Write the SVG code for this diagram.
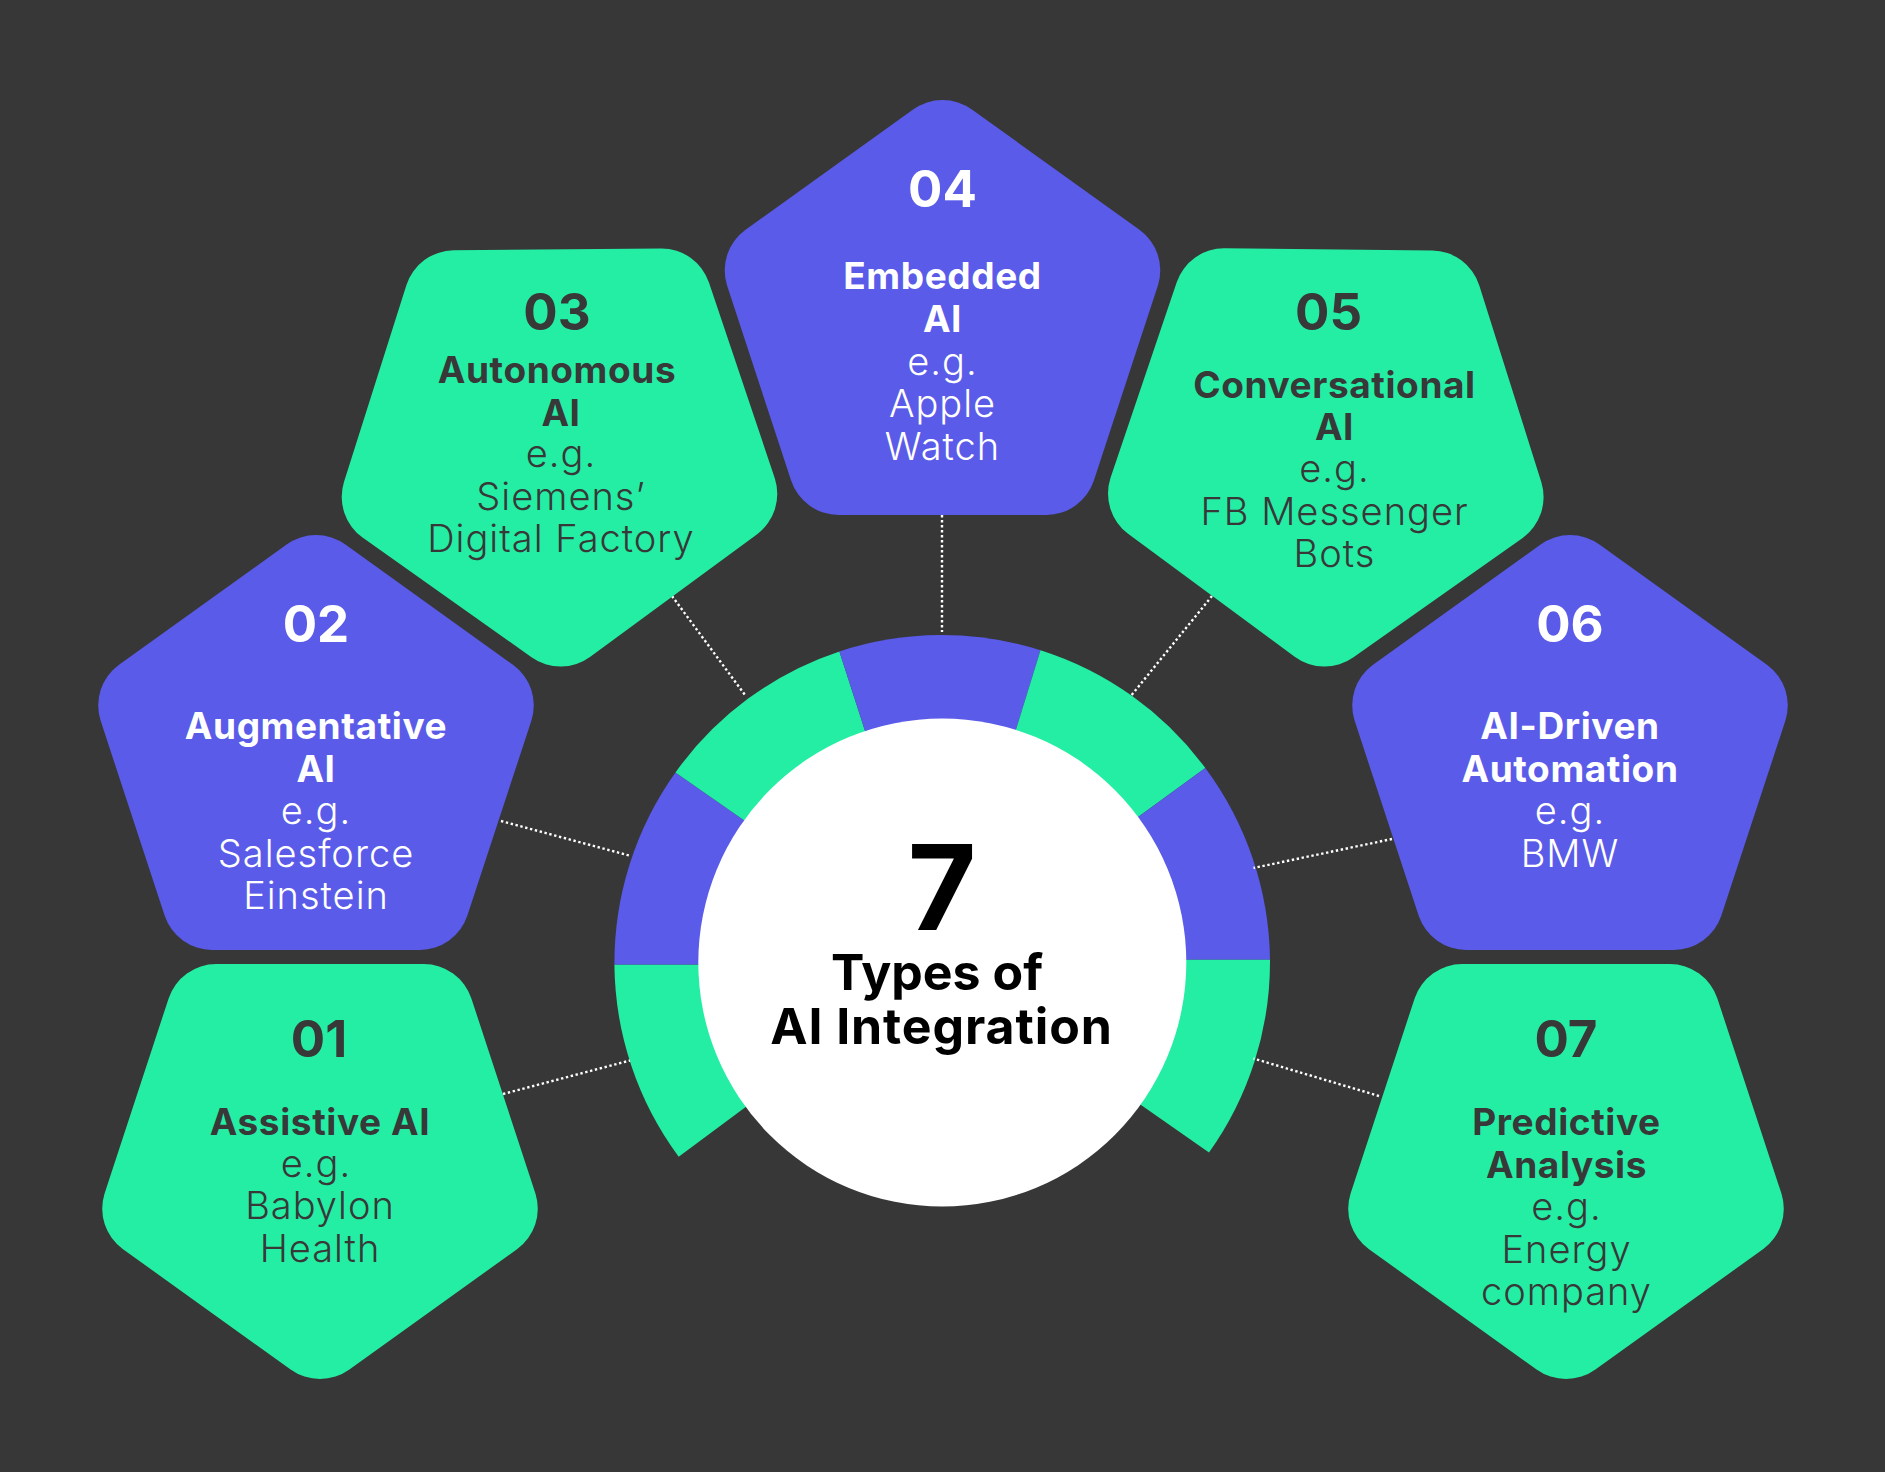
<svg xmlns="http://www.w3.org/2000/svg" width="1885" height="1472" viewBox="0 0 1885 1472">
<style>
text{font-family:"Inter","Noto Sans",sans-serif;text-anchor:middle}
.num{font-size:51px;font-weight:700}
.h{font-size:37px;font-weight:700;letter-spacing:.6px}
.b{font-size:38px;font-weight:350;letter-spacing:1px}
.on-g text{fill:#383838}
.on-b text{fill:#fff}
.g{fill:#24EEA4}
.p{fill:#5A5BE9}
.t{fill:#000;font-weight:700}
#connectors line{stroke:#fff;stroke-width:2.4;stroke-dasharray:2.4 2.6}
</style>
<defs>
<path id="penta" d="M-29.4,9.5A50,50 0 0 1 29.4,9.5L197.3,130A50,50 0 0 1 215.5,185.3L151.3,380.8A50,50 0 0 1 103.8,415L-103.8,415A50,50 0 0 1 -151.3,380.8L-215.5,185.3A50,50 0 0 1 -197.3,130Z"/>
</defs>
<rect width="1885" height="1472" fill="#373737"/>
<g id="ring">
<path class="g" d="M678.7,1156.7A328,328 0 0 1 614.4,964.6L718.5,964.6L760.5,1096.1Z"/>
<path class="p" d="M614.4,964.6A328,328 0 0 1 675.5,772.4L759.4,831L718.5,964.6Z"/>
<path class="g" d="M675.5,772.4A328,328 0 0 1 839.4,651.4L870.8,748.7L759.4,831Z"/>
<path class="p" d="M839.4,651.4A328,328 0 0 1 1040.5,650.2L1010.3,748L870.8,748.7Z"/>
<path class="g" d="M1040.5,650.2A328,328 0 0 1 1205.3,768L1123,828.1L1010.3,748Z"/>
<path class="p" d="M1205.3,768A328,328 0 0 1 1270,959.8L1166,959.8L1123,828.1Z"/>
<path class="g" d="M1270,959.8A328,328 0 0 1 1209,1152.4L1126,1094.6L1166,959.8Z"/>
</g>
<g id="connectors">
<line x1="503" y1="1094" x2="630" y2="1060.5"/>
<line x1="501" y1="821" x2="631" y2="856"/>
<line x1="672" y1="596" x2="745" y2="695"/>
<line x1="942" y1="515" x2="942" y2="632"/>
<line x1="1212" y1="596" x2="1130" y2="697"/>
<line x1="1392" y1="839" x2="1253.5" y2="868"/>
<line x1="1379" y1="1096" x2="1253.5" y2="1058.5"/>
</g>
<g id="center">
<circle cx="942.3" cy="962.5" r="244" fill="#fff"/>
<text class="t" x="942" y="929.5" style="font-size:118px">7</text>
<text class="t" x="937" y="989.5" style="font-size:50px">Types of</text>
<text class="t" x="941.5" y="1043.5" style="font-size:50px;letter-spacing:.9px">AI Integration</text>
</g>
<g id="node-01" class="on-g">
<use href="#penta" class="g" transform="translate(320,1379) scale(1,-1)"/>
<text class="num" x="319" y="1057">01</text>
<text class="h" x="320" y="1135">Assistive AI</text>
<text class="b" x="316" y="1177">e.g.</text>
<text class="b" x="320" y="1219">Babylon</text>
<text class="b" x="320" y="1262">Health</text>
</g>
<g id="node-02" class="on-b">
<use href="#penta" class="p" transform="translate(316,535)"/>
<text class="num" x="316" y="642">02</text>
<text class="h" x="316" y="739">Augmentative</text>
<text class="h" x="316" y="781.5">AI</text>
<text class="b" x="316" y="824">e.g.</text>
<text class="b" x="316" y="866.5">Salesforce</text>
<text class="b" x="316" y="909">Einstein</text>
</g>
<g id="node-03" class="on-g">
<use href="#penta" class="g" transform="translate(561,666.5) rotate(-0.5) scale(1,-1.005)"/>
<text class="num" x="557" y="329.5">03</text>
<text class="h" x="557" y="382.5">Autonomous</text>
<text class="h" x="561" y="425.5">AI</text>
<text class="b" x="561" y="467">e.g.</text>
<text class="b" x="561" y="509.5">Siemens’</text>
<text class="b" x="561" y="552">Digital Factory</text>
</g>
<g id="node-04" class="on-b">
<use href="#penta" class="p" transform="translate(942.5,100)"/>
<text class="num" x="942.5" y="206.7">04</text>
<text class="h" x="942.5" y="289">Embedded</text>
<text class="h" x="942.5" y="332">AI</text>
<text class="b" x="942.5" y="374.5">e.g.</text>
<text class="b" x="942.5" y="417">Apple</text>
<text class="b" x="942.5" y="460">Watch</text>
</g>
<g id="node-05" class="on-g">
<use href="#penta" class="g" transform="translate(1324,666.5) rotate(0.6) scale(1,-1.005)"/>
<text class="num" x="1328.5" y="329.5">05</text>
<text class="h" x="1334.5" y="397.5">Conversational</text>
<text class="h" x="1334.5" y="440">AI</text>
<text class="b" x="1334.5" y="482">e.g.</text>
<text class="b" x="1334.5" y="525">FB Messenger</text>
<text class="b" x="1334.5" y="567">Bots</text>
</g>
<g id="node-06" class="on-b">
<use href="#penta" class="p" transform="translate(1570,535)"/>
<text class="num" x="1570" y="642">06</text>
<text class="h" x="1570" y="739">AI-Driven</text>
<text class="h" x="1570" y="781.5">Automation</text>
<text class="b" x="1570" y="824">e.g.</text>
<text class="b" x="1570" y="866.5">BMW</text>
</g>
<g id="node-07" class="on-g">
<use href="#penta" class="g" transform="translate(1566,1379) scale(1,-1)"/>
<text class="num" x="1566" y="1057">07</text>
<text class="h" x="1566.5" y="1135">Predictive</text>
<text class="h" x="1566.5" y="1177.5">Analysis</text>
<text class="b" x="1566.5" y="1220">e.g.</text>
<text class="b" x="1566.5" y="1262.5">Energy</text>
<text class="b" x="1566.5" y="1305">company</text>
</g>
</svg>
